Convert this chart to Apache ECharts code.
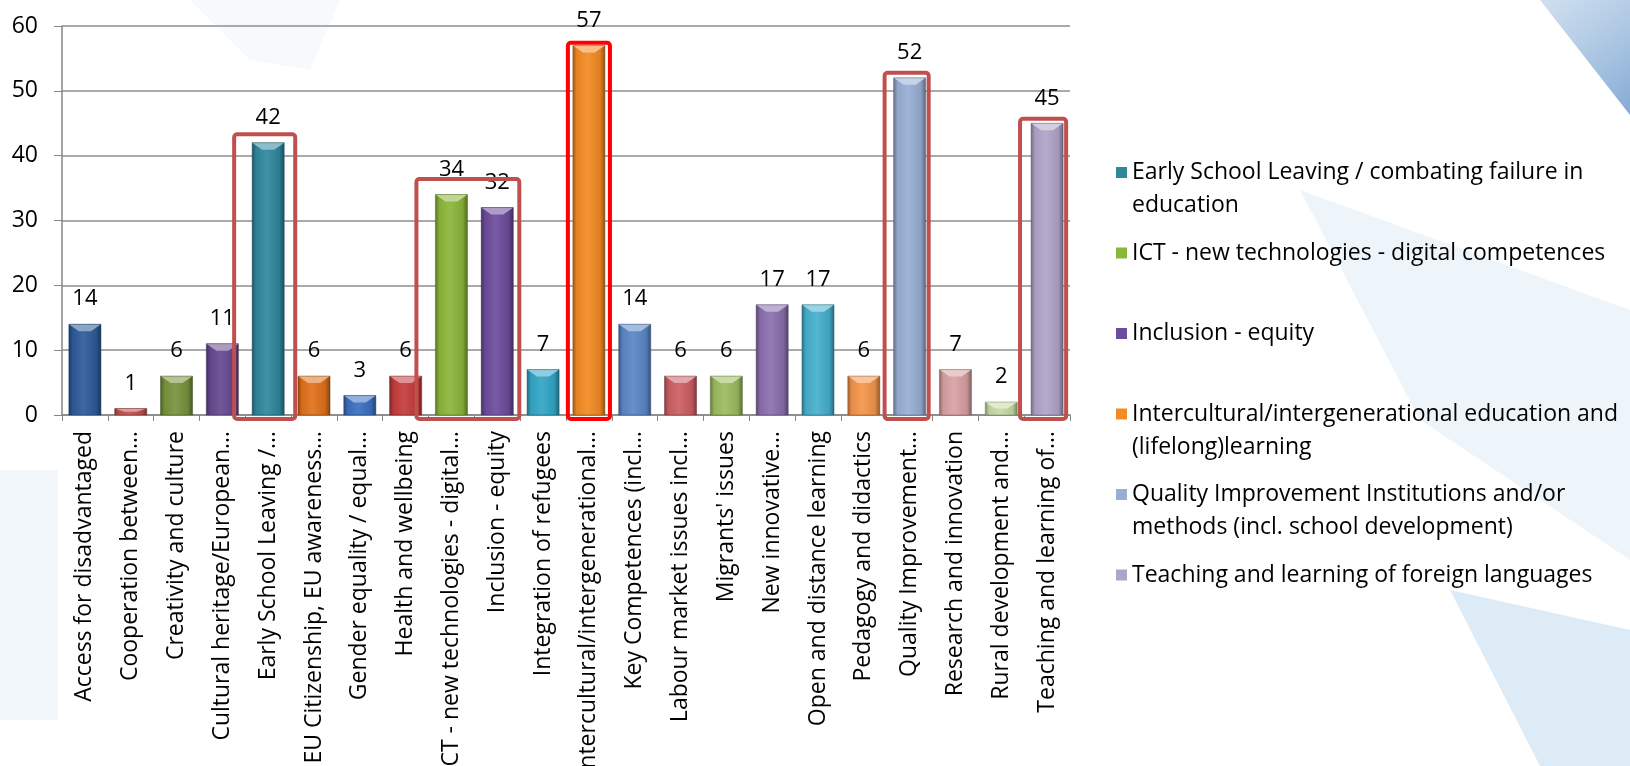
<!DOCTYPE html>
<html><head><meta charset="utf-8">
<script src="https://cdn.jsdelivr.net/npm/echarts@6/dist/echarts.min.js"></script>
<style>html,body{margin:0;padding:0;background:#fff}#c{width:1630px;height:766px}</style>
</head><body><div id="c"></div>
<script>
// ---------- data ----------
const categories = [
  'Access for disadvantaged', 'Cooperation between…', 'Creativity and culture',
  'Cultural heritage/European…', 'Early School Leaving /…', 'EU Citizenship, EU awareness…',
  'Gender equality / equal…', 'Health and wellbeing', 'ICT - new technologies - digital…',
  'Inclusion - equity', 'Integration of refugees', 'Intercultural/intergenerational…',
  'Key Competences (incl…', 'Labour market issues incl…', "Migrants' issues",
  'New innovative…', 'Open and distance learning', 'Pedagogy and didactics',
  'Quality Improvement…', 'Research and innovation', 'Rural development and…',
  'Teaching and learning of…'
];
const values = [14, 1, 6, 11, 42, 6, 3, 6, 34, 32, 7, 57, 14, 6, 6, 17, 17, 6, 52, 7, 2, 45];
const yTickValues = [0, 10, 20, 30, 40, 50, 60];

const legendLabels = [
  'Early School Leaving / combating failure in\neducation',
  'ICT - new technologies - digital competences',
  'Inclusion - equity',
  'Intercultural/intergenerational education and\n(lifelong)learning',
  'Quality Improvement Institutions and/or\nmethods (incl. school development)',
  'Teaching and learning of foreign languages'
];

// highlighted groups (annotation boxes), tops in value units
const highlightFrom = ['Early School Leaving /…', 'ICT - new technologies - digital…', 'Intercultural/intergenerational…', 'Quality Improvement…', 'Teaching and learning of…'];
const highlightTo   = ['Early School Leaving /…', 'Inclusion - equity', 'Intercultural/intergenerational…', 'Quality Improvement…', 'Teaching and learning of…'];
const highlightTop  = [43.3, 36.4, 57.4, 52.8, 45.7];

// ---------- styles ----------
const barColors = [
  '#2d5b9a', '#c0504d', '#76923c', '#65498f', '#2f879c', '#e0711a', '#3a70c0', '#c43b3b',
  '#8ab63a', '#6c4c9c', '#32a6c6', '#f38a22', '#5a86c6', '#cc5e64', '#9bbb5e', '#8a6fae',
  '#45b0cc', '#f4944b', '#98aed3', '#d9a0a3', '#c6daa6', '#b0a4c8'
];
const legendColors = ['#2f879c', '#8ab63a', '#6c4c9c', '#f38a22', '#98aed3', '#b0a4c8'];
const boxColors = ['#c0504d', '#c0504d', '#ff0000', '#c0504d', '#c0504d'];
const boxPadL = [18, 19, 5, 9, 11];
const boxPadR = [11, 6, 5, 3, 3];
const FONT = 'Open Sans';

function adj(hex, f) {
  const n = parseInt(hex.slice(1), 16);
  let r = (n >> 16) & 255, g = (n >> 8) & 255, b = n & 255;
  if (f >= 0) { r += (255 - r) * f; g += (255 - g) * f; b += (255 - b) * f; }
  else { r *= 1 + f; g *= 1 + f; b *= 1 + f; }
  return 'rgb(' + Math.round(r) + ',' + Math.round(g) + ',' + Math.round(b) + ')';
}
function barGrad(c) {
  return new echarts.graphic.LinearGradient(0, 0, 1, 0, [
    { offset: 0, color: adj(c, -0.35) },
    { offset: 0.12, color: adj(c, -0.05) },
    { offset: 0.45, color: adj(c, 0.08) },
    { offset: 0.85, color: adj(c, -0.08) },
    { offset: 1, color: adj(c, -0.4) }
  ]);
}

const chart = echarts.init(document.getElementById('c'), null, { renderer: 'canvas' });

const legendSeries = legendLabels.map((l, k) => ({
  type: 'line', name: l.replace('\n', ' '), data: [], silent: true,
  itemStyle: { color: legendColors[k] }, lineStyle: { color: legendColors[k] }
}));

const LH = 33;
const legends = legendLabels.map((l, k) => {
  const two = l.indexOf('\n') >= 0;
  const center = 172.5 + k * 80.5;
  // two-line entries get a blank leading line so the first line sits level with the swatch
  const shown = two ? ' \n' + l : l;
  return {
    orient: 'vertical', left: 1116, top: two ? center - 1.5 * LH : center - LH / 2,
    padding: 0, itemWidth: 11, itemHeight: 11, itemGap: 0, selectedMode: false,
    data: [{ name: l.replace('\n', ' '), icon: 'rect' }],
    formatter: () => shown,
    textStyle: { fontFamily: FONT, fontSize: 23, color: '#000', lineHeight: LH }
  };
});

const option = {
  backgroundColor: '#ffffff',
  animation: false,
  graphic: [
    { type: 'polygon', z: -10, silent: true, shape: { points: [[1540, 0], [1630, 0], [1630, 115]] },
      style: { fill: new echarts.graphic.LinearGradient(0, 0, 1, 1, [{ offset: 0, color: 'rgba(150,185,220,0.45)' }, { offset: 1, color: 'rgba(110,155,205,0.85)' }]) } },
    { type: 'polygon', z: -10, silent: true, shape: { points: [[1300, 190], [1630, 310], [1630, 560], [1420, 420]] },
      style: { fill: 'rgba(200,222,238,0.3)' } },
    { type: 'polygon', z: -10, silent: true, shape: { points: [[1450, 590], [1630, 630], [1630, 766], [1540, 766]] },
      style: { fill: 'rgba(170,205,232,0.4)' } },
    { type: 'rect', z: -10, silent: true, shape: { x: 0, y: 470, width: 58, height: 250 },
      style: { fill: 'rgba(205,228,242,0.28)' } },
    { type: 'polygon', z: -10, silent: true, shape: { points: [[190, 0], [340, 0], [310, 70], [250, 60]] },
      style: { fill: 'rgba(225,234,242,0.25)' } }
  ],
  legend: legends,
  grid: { left: 62, right: 560, top: 26, bottom: 351, outerBoundsMode: 'none', containLabel: false },
  xAxis: {
    type: 'category', data: categories,
    axisLine: { lineStyle: { color: '#868686', width: 1.5 } },
    axisTick: { show: true, length: 6, lineStyle: { color: '#868686', width: 1 } },
    axisLabel: { interval: 0, rotate: 90, fontFamily: FONT, fontSize: 23, color: '#000', margin: 16 }
  },
  yAxis: {
    type: 'value', min: yTickValues[0], max: yTickValues[yTickValues.length - 1], interval: 10,
    axisLine: { show: true, lineStyle: { color: '#868686', width: 1.5 } },
    axisTick: { show: true, length: 8, lineStyle: { color: '#868686', width: 1 } },
    splitLine: { lineStyle: { color: '#8e8e8e', width: 1.5 } },
    axisLabel: { fontFamily: FONT, fontSize: 23, color: '#000', margin: 24 }
  },
  series: [
    {
      type: 'bar', name: 'values', barCategoryGap: '30%', z: 2,
      data: values.map((v, i) => ({ value: v, itemStyle: { color: barGrad(barColors[i]) } })),
      label: { show: true, position: 'top', distance: 14, fontFamily: FONT, fontSize: 22, lineHeight: 22, color: '#000' }
    },
    {
      type: 'custom', name: 'bevel', z: 3, silent: true, clip: false,
      data: values.map((v, i) => [i, v]),
      renderItem: (params, api) => {
        const i = api.value(0), v = api.value(1);
        const t = api.coord([i, v]), b0 = api.coord([i, 0]);
        const w = api.size([1, 0])[0] * 0.7;
        const x0 = t[0] - w / 2, x1 = t[0] + w / 2;
        const h = b0[1] - t[1];
        const bh = Math.min(7, h * 0.5), inset = Math.min(10, w / 3);
        const c = barColors[params.dataIndex];
        return {
          type: 'group', children: [
            { type: 'polygon', shape: { points: [[x0, t[1]], [x1, t[1]], [x1 - inset, t[1] + bh], [x0 + inset, t[1] + bh]] },
              style: { fill: adj(c, 0.45) } },
            { type: 'rect', shape: { x: x0, y: t[1], width: w, height: h },
              style: { fill: 'none', stroke: adj(c, -0.45), lineWidth: 0.8, opacity: 0.6 } }
          ]
        };
      }
    },
    {
      type: 'custom', name: 'highlight', z: 5, silent: true, clip: false,
      encode: { x: 0, y: 1 },
      data: highlightFrom.map((f, k) => [categories.indexOf(f), highlightTop[k], categories.indexOf(highlightTo[k])]),
      renderItem: (params, api) => {
        const k = params.dataIndex;
        const from = api.value(0), top = api.value(1), to = api.value(2);
        const w = api.size([1, 0])[0] * 0.7;
        const left = api.coord([from, 0])[0] - w / 2 - boxPadL[k];
        const right = api.coord([to, 0])[0] + w / 2 + boxPadR[k];
        const yTop = api.coord([from, top])[1];
        const yBot = api.coord([from, 0])[1] + 4;
        return { type: 'rect', shape: { x: left, y: yTop, width: right - left, height: yBot - yTop, r: 3 },
          style: { fill: 'none', stroke: boxColors[k], lineWidth: 4 } };
      }
    }
  ].concat(legendSeries)
};
chart.setOption(option);
</script>
</body></html>
